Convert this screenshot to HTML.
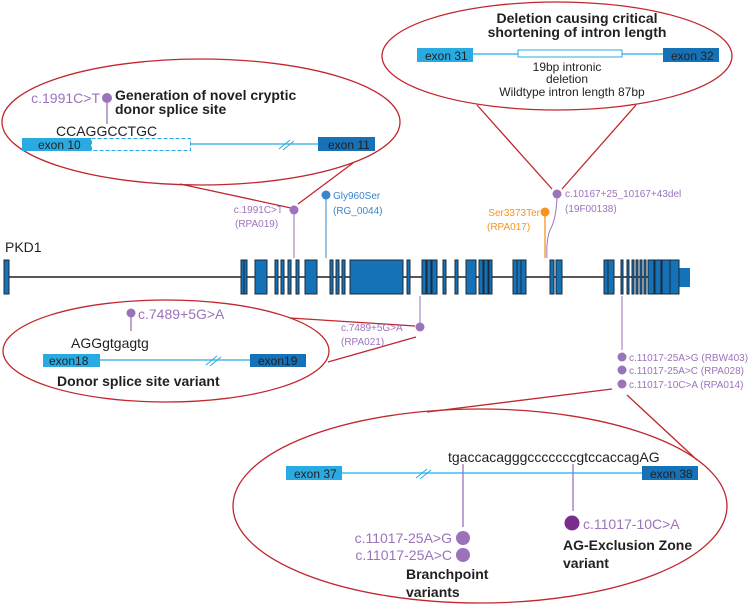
<!DOCTYPE html>
<html><head><meta charset="utf-8"><style>
html,body{margin:0;padding:0;background:#fff}
svg{display:block}
text{font-family:"Liberation Sans",sans-serif}
.b{font-weight:bold;fill:#231f20}
</style></head><body>
<svg width="750" height="605" viewBox="0 0 750 605" xmlns="http://www.w3.org/2000/svg">
<g fill="none" stroke="#c1272d" stroke-width="1.3">
<ellipse cx="201" cy="122" rx="199" ry="63"/>
<ellipse cx="557" cy="56" rx="175" ry="54"/>
<ellipse cx="166" cy="351" rx="163" ry="51"/>
<ellipse cx="480" cy="506" rx="247" ry="97"/>
<line x1="180" y1="184" x2="291" y2="208"/>
<line x1="353" y1="163" x2="298" y2="204"/>
<line x1="477" y1="105" x2="552" y2="189"/>
<line x1="636" y1="105" x2="562" y2="189"/>
<line x1="290" y1="318" x2="415" y2="326"/>
<line x1="328" y1="362" x2="416" y2="337"/>
<line x1="612" y1="389" x2="427" y2="412"/>
<line x1="627" y1="395" x2="697" y2="460"/>
</g>
<!-- gene -->
<text x="5" y="252" font-size="14" fill="#231f20">PKD1</text>
<line x1="7" y1="277" x2="670" y2="277" stroke="#231f20" stroke-width="1.5"/>
<rect x="679" y="268" width="11" height="19" fill="#1672b6"/>
<g fill="#1672b6" stroke="#1a2a3a" stroke-width="1">
<rect x="4" y="260" width="5" height="34"/>
<rect x="241" y="260" width="3" height="34"/><rect x="244" y="260" width="3" height="34"/>
<rect x="255" y="260" width="12" height="34"/>
<rect x="275" y="260" width="3" height="34"/><rect x="281" y="260" width="3" height="34"/><rect x="288" y="260" width="3" height="34"/><rect x="296" y="260" width="3" height="34"/>
<rect x="305" y="260" width="12" height="34"/>
<rect x="330" y="260" width="3" height="34"/><rect x="336" y="260" width="3" height="34"/><rect x="342" y="260" width="3" height="34"/>
<rect x="350" y="260" width="53" height="34"/>
<rect x="407" y="260" width="3" height="34"/>
<rect x="422" y="260" width="4" height="34"/><rect x="427" y="260" width="4" height="34"/><rect x="432" y="260" width="5" height="34"/>
<rect x="443" y="260" width="3" height="34"/><rect x="455" y="260" width="3" height="34"/>
<rect x="466" y="260" width="10" height="34"/>
<rect x="479" y="260" width="4" height="34"/><rect x="484" y="260" width="4" height="34"/><rect x="489" y="260" width="3" height="34"/>
<rect x="513" y="260" width="4" height="34"/><rect x="517" y="260" width="4" height="34"/><rect x="521" y="260" width="5" height="34"/>
<rect x="550" y="260" width="4" height="34"/><rect x="556" y="260" width="6" height="34"/>
<rect x="604" y="260" width="4" height="34"/><rect x="608" y="260" width="6" height="34"/>
<rect x="621" y="260" width="2" height="34"/><rect x="627" y="260" width="2" height="34"/><rect x="632" y="260" width="2" height="34"/><rect x="636" y="260" width="2" height="34"/><rect x="640" y="260" width="2" height="34"/><rect x="644" y="260" width="2" height="34"/>
<rect x="648" y="260" width="6" height="34"/><rect x="655" y="260" width="6" height="34"/><rect x="662" y="260" width="8" height="34"/><rect x="670" y="260" width="9" height="34"/>
</g>
<!-- top left ellipse content -->
<text x="100" y="103" font-size="14" fill="#9b73bb" text-anchor="end">c.1991C&gt;T</text>
<line x1="107" y1="98" x2="107" y2="124" stroke="#9b73bb" stroke-width="1.3"/>
<circle cx="107" cy="98" r="5" fill="#9b73bb"/>
<text x="115" y="100" font-size="14" class="b">Generation of novel cryptic</text>
<text x="115" y="114" font-size="14" class="b">donor splice site</text>
<text x="56" y="136" font-size="14" fill="#231f20">CCAGGCCTGC</text>
<rect x="22" y="138" width="69" height="13" fill="#29abe2"/>
<text x="38" y="149" font-size="12" fill="#231f20">exon 10</text>
<rect x="91.5" y="138.5" width="99" height="12" fill="none" stroke="#29abe2" stroke-dasharray="4,2"/>
<line x1="191" y1="144" x2="318" y2="144" stroke="#29abe2" stroke-width="1.3"/>
<path d="M279 149 L290 140 M283 150 L294 141" stroke="#29abe2"/>
<rect x="318" y="137" width="57" height="14" fill="#1672b6"/>
<text x="328" y="149" font-size="12" fill="#231f20">exon 11</text>
<!-- variant labels top -->
<text x="283" y="213" font-size="10" fill="#9b73bb" text-anchor="end">c.1991C&gt;T</text>
<text x="235" y="227" font-size="10" fill="#9b73bb">(RPA019)</text>
<line x1="294" y1="210" x2="294" y2="258" stroke="#9b73bb"/>
<circle cx="294" cy="210" r="4.5" fill="#9b73bb"/>
<line x1="326" y1="195" x2="326" y2="258" stroke="#3a87c8"/>
<circle cx="326" cy="195" r="4.5" fill="#3a87c8"/>
<text x="333" y="199" font-size="10" fill="#3a87c8">Gly960Ser</text>
<text x="333" y="214" font-size="10" fill="#3a87c8">(RG_0044)</text>
<!-- top right ellipse -->
<text x="577" y="23" font-size="14" class="b" text-anchor="middle">Deletion causing critical</text>
<text x="577" y="37" font-size="14" class="b" text-anchor="middle">shortening of intron length</text>
<rect x="417" y="48" width="56" height="14" fill="#29abe2"/>
<text x="425" y="60" font-size="12" fill="#231f20">exon 31</text>
<line x1="473" y1="54" x2="663" y2="54" stroke="#29abe2" stroke-width="1.3"/>
<rect x="518" y="50" width="104" height="7" fill="#fff" stroke="#29abe2"/>
<rect x="663" y="48" width="56" height="14" fill="#1672b6"/>
<text x="671" y="60" font-size="12" fill="#231f20">exon 32</text>
<text x="567" y="71" font-size="12" fill="#231f20" text-anchor="middle">19bp intronic</text>
<text x="567" y="83" font-size="12" fill="#231f20" text-anchor="middle">deletion</text>
<text x="572" y="96" font-size="12" fill="#231f20" text-anchor="middle">Wildtype intron length 87bp</text>
<circle cx="557" cy="194" r="4.5" fill="#9b73bb"/>
<text x="565" y="197" font-size="10" fill="#9b73bb">c.10167+25_10167+43del</text>
<text x="565" y="212" font-size="10" fill="#9b73bb">(19F00138)</text>
<line x1="545" y1="212" x2="545" y2="258" stroke="#f7931e" stroke-width="1.3"/>
<path d="M557 198 Q556 220 550 230 Q546 240 547 258" fill="none" stroke="#9b73bb"/>
<circle cx="545" cy="212" r="4.5" fill="#f7931e"/>
<text x="540" y="216" font-size="10" fill="#f7931e" text-anchor="end">Ser3373Ter</text>
<text x="487" y="230" font-size="10" fill="#f7931e">(RPA017)</text>
<!-- left middle ellipse -->
<line x1="131" y1="313" x2="131" y2="331" stroke="#9b73bb" stroke-width="1.3"/>
<circle cx="131" cy="313" r="4.5" fill="#9b73bb"/>
<text x="138" y="319" font-size="14" fill="#9b73bb">c.7489+5G&gt;A</text>
<text x="71" y="348" font-size="14" fill="#231f20">AGGgtgagtg</text>
<rect x="43" y="354" width="57" height="13" fill="#29abe2"/>
<text x="49" y="365" font-size="12" fill="#231f20">exon18</text>
<line x1="100" y1="360" x2="250" y2="360" stroke="#29abe2" stroke-width="1.3"/>
<path d="M206 365 L217 356 M210 366 L221 357" stroke="#29abe2"/>
<rect x="250" y="354" width="56" height="13" fill="#1672b6"/>
<text x="258" y="365" font-size="12" fill="#231f20">exon19</text>
<text x="57" y="386" font-size="14" class="b">Donor splice site variant</text>
<line x1="420" y1="296" x2="420" y2="327" stroke="#9b73bb"/>
<circle cx="420" cy="327" r="4.5" fill="#9b73bb"/>
<text x="341" y="331" font-size="10" fill="#9b73bb">c.7489+5G&gt;A</text>
<text x="341" y="345" font-size="10" fill="#9b73bb">(RPA021)</text>
<!-- right variants -->
<line x1="622" y1="296" x2="622" y2="350" stroke="#9b73bb"/>
<circle cx="622" cy="357" r="4.5" fill="#9b73bb"/>
<circle cx="622" cy="370" r="4.5" fill="#9b73bb"/>
<circle cx="622" cy="384" r="4.5" fill="#9b73bb"/>
<text x="629" y="361" font-size="10" fill="#9b73bb">c.11017-25A&gt;G (RBW403)</text>
<text x="629" y="374" font-size="10" fill="#9b73bb">c.11017-25A&gt;C (RPA028)</text>
<text x="629" y="388" font-size="10" fill="#9b73bb">c.11017-10C&gt;A (RPA014)</text>
<!-- bottom ellipse -->
<text x="448" y="462" font-size="14" fill="#231f20">tgaccacagggcccccccgtccaccagAG</text>
<rect x="286" y="466" width="56" height="14" fill="#29abe2"/>
<text x="294" y="478" font-size="12" fill="#231f20">exon 37</text>
<line x1="342" y1="473" x2="642" y2="473" stroke="#6ccff6" stroke-width="2"/>
<path d="M416 478 L427 469 M420 479 L431 470" stroke="#29abe2"/>
<rect x="642" y="466" width="56" height="14" fill="#1672b6"/>
<text x="650" y="478" font-size="12" fill="#231f20">exon 38</text>
<line x1="463" y1="464" x2="463" y2="527" stroke="#9b73bb" stroke-width="1.3"/>
<line x1="573" y1="464" x2="573" y2="511" stroke="#9b73bb" stroke-width="1.3"/>
<circle cx="463" cy="538" r="7" fill="#9b73bb"/>
<circle cx="463" cy="555" r="7" fill="#9b73bb"/>
<text x="452" y="543" font-size="14" fill="#9b73bb" text-anchor="end">c.11017-25A&gt;G</text>
<text x="452" y="560" font-size="14" fill="#9b73bb" text-anchor="end">c.11017-25A&gt;C</text>
<circle cx="572" cy="523" r="7.5" fill="#7b2d8e"/>
<text x="583" y="529" font-size="14" fill="#9b73bb">c.11017-10C&gt;A</text>
<text x="563" y="550" font-size="14" class="b">AG-Exclusion Zone</text>
<text x="563" y="568" font-size="14" class="b">variant</text>
<text x="406" y="579" font-size="14" class="b">Branchpoint</text>
<text x="406" y="597" font-size="14" class="b">variants</text>
</svg>
</body></html>
